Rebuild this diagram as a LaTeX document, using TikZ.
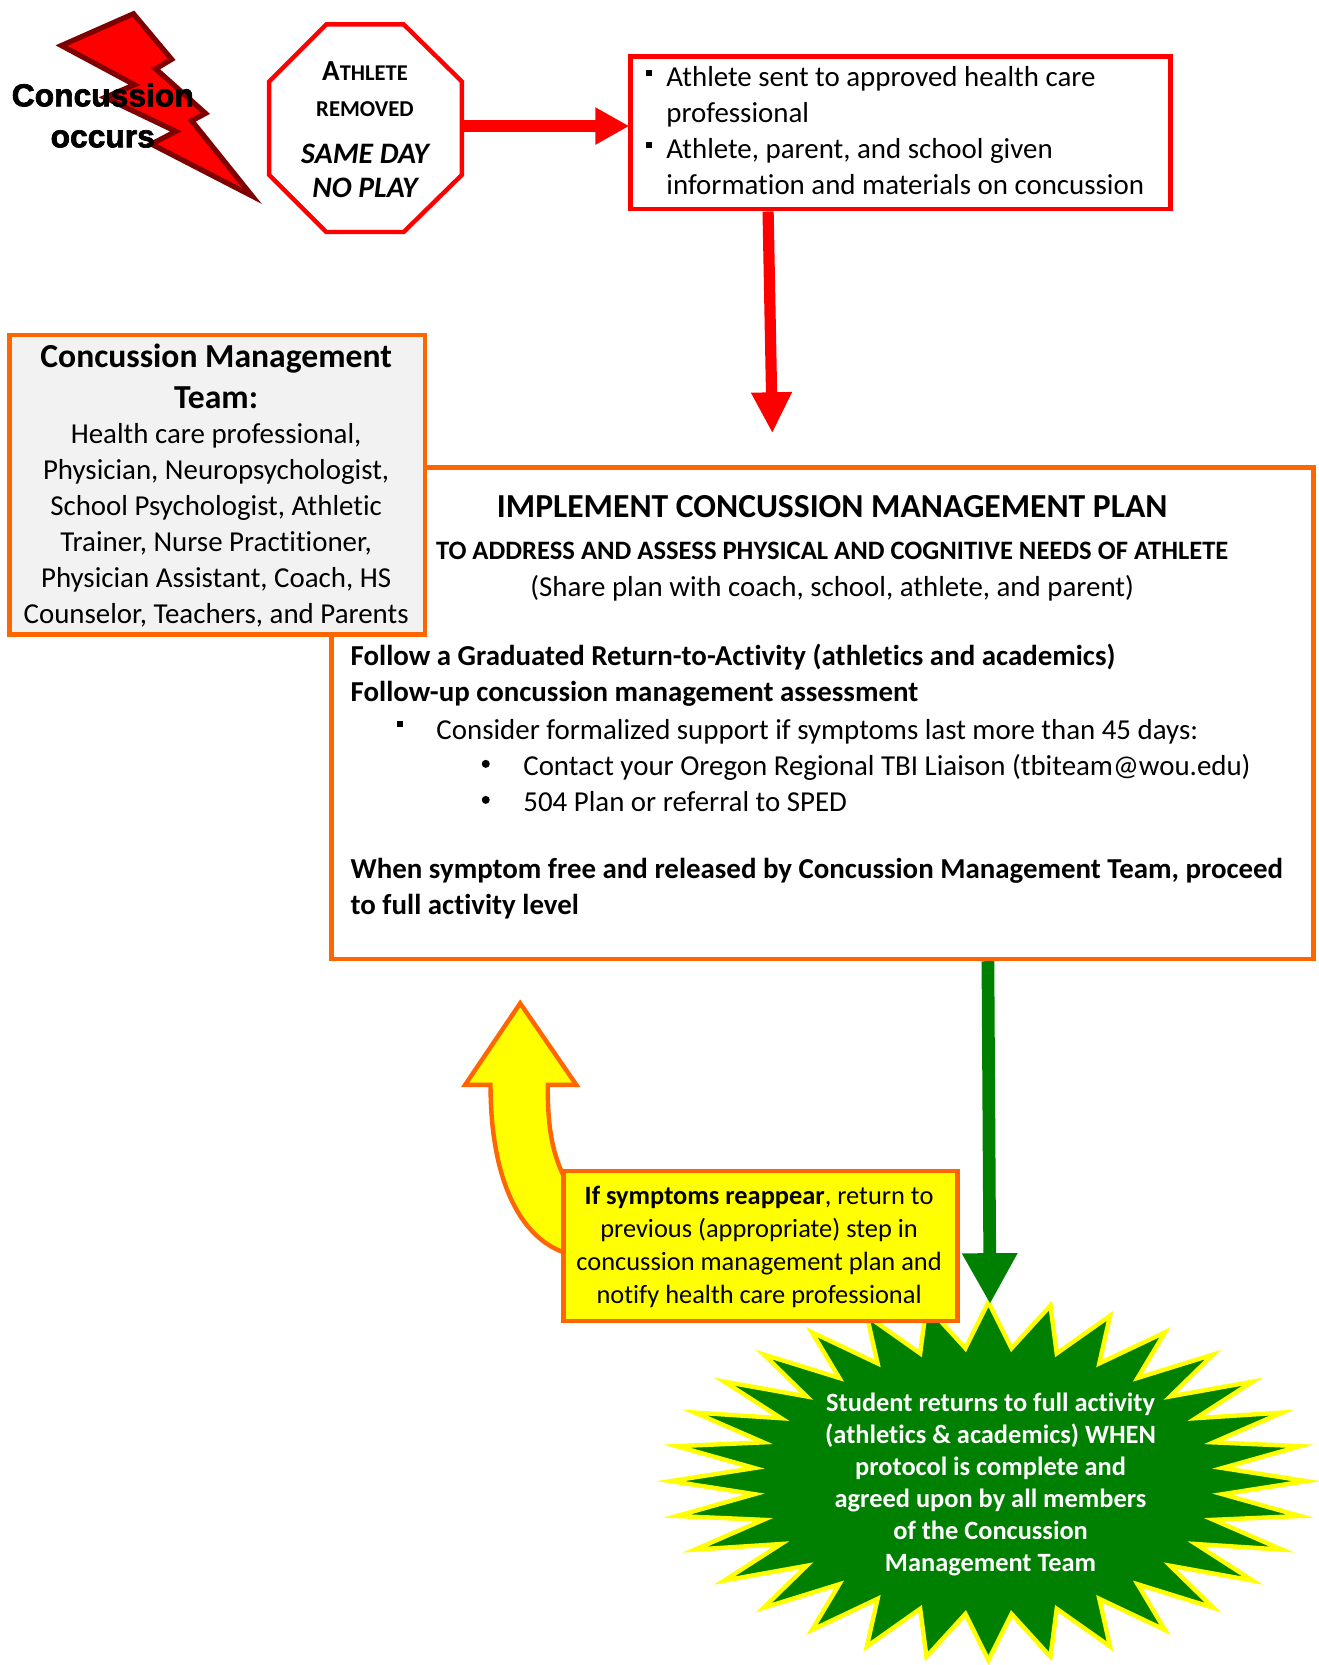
\documentclass[tikz,border=0pt]{standalone}
\usepackage{fontspec}
\setmainfont[Ligatures=NoCommon]{Carlito}
\newfontfamily\heavy[BoldFeatures={FakeBold=2.2}]{Liberation Sans}
\usetikzlibrary{arrows.meta,calc}
\definecolor{sigred}{HTML}{FF0000}
\definecolor{sigorange}{HTML}{FF6600}
\definecolor{siggreen}{HTML}{008000}
\definecolor{sigyellow}{HTML}{FFFF00}
\definecolor{boltdark}{HTML}{7F0000}
\definecolor{panelgrey}{HTML}{F2F2F2}
\newcommand{\bodysize}{\fontsize{28.9}{36}\selectfont}
\tikzset{
  frame/.style={draw,line width=4.4pt,rectangle,inner sep=0pt,miter limit=10},
  txt/.style={inner sep=0pt,outer sep=0pt,font=\bodysize},
  blockred/.style={draw=sigred,line width=11.2pt,-{Triangle[length=34pt,width=35pt,sep=0pt]},sigred},
  blockgreen/.style={draw=siggreen,line width=12.7pt,-{Triangle[length=51pt,width=52pt]},siggreen},
  sqbullet/.style={fill=black,inner sep=0pt,minimum size=6pt},
  rdbullet/.style={circle,fill=black,inner sep=0pt,minimum size=8pt},
}
\begin{document}
\begin{tikzpicture}[x=1.0594pt,y=-1.0594pt]
\useasboundingbox (0,0) rectangle (1245,1571.6);
% star
\draw[fill=siggreen,draw=sigyellow,line width=4.4pt,miter limit=12]
  plot[samples at={0,...,63}] ({933+(mod(\x,2)==0?300:222)*cos(\x*5.625)},{1398+(mod(\x,2)==0?169:126)*sin(\x*5.625)}) -- cycle;
\node[txt,align=center,text=white,font=\fontsize{26.4}{32.0}\selectfont\bfseries] (star) at (935,1401.5) {Student returns to full activity\\(athletics \& academics) WHEN\\protocol is complete and\\agreed upon by all members\\of the Concussion\\Management Team};
% bolt
\draw[fill=sigred,draw=boltdark,line width=5.2pt,miter limit=12] (126,13)--(58,43)--(127,80)--(99,92)--(166,124)--(143,136)--(238,185)--(181,114)--(194,107)--(147,65)--(162,56)--cycle;
\node[txt,align=center,font=\fontsize{31.8}{41}\selectfont\heavy\bfseries] (bolt) at (97,109) {Concussion\\occurs};
% stop sign
\draw[draw=sigred,line width=4.4pt,fill=white] (308,23)--(381,23)--(436,77)--(436,165)--(381,219)--(308,219)--(254,165)--(254,77)--cycle;
\node[inner sep=0pt,minimum width=192.8pt,minimum height=206.6pt] (oct) at (345,120.5) {};
\node[txt,align=center,font=\fontsize{25}{36}\selectfont\bfseries] (octa) at (344.5,84.5) {{\fontsize{29}{36}\selectfont A}{\fontsize{22.5}{36}\selectfont THLETE}\\{\fontsize{22.7}{36}\selectfont REMOVED}};
\node[txt,align=center,font=\fontsize{29.7}{33.5}\selectfont\bfseries\itshape] (octb) at (344.5,161.5) {SAME DAY\\NO PLAY};
% red box
\node[frame,draw=sigred,minimum width=540pt,minimum height=152.6pt] (redbox) at (850,125.5) {};
\node[txt,align=left,anchor=west] (redtxt) at (629,123) {Athlete sent to approved health care\\professional\\Athlete, parent, and school given\\information and materials on concussion};
\node[sqbullet] (rb1) at (613,69) {};
\node[sqbullet] (rb2) at (613,137) {};
% main box
\node[frame,draw=sigorange,fill=white,minimum width=982pt,minimum height=491.6pt] (main) at (776.5,673.2) {};
\node[txt,font=\fontsize{33.6}{38}\selectfont\bfseries] (mt) at (785.5,478) {IMPLEMENT CONCUSSION MANAGEMENT PLAN};
\node[txt,font=\fontsize{26.6}{36}\selectfont\bfseries] (ms) at (785.5,520) {TO ADDRESS AND ASSESS PHYSICAL AND COGNITIVE NEEDS OF ATHLETE};
\node[txt] (mp) at (785.5,555) {(Share plan with coach, school, athlete, and parent)};
\node[txt,font=\bodysize\bfseries,align=left,anchor=west] (mf) at (331,637) {Follow a Graduated Return-to-Activity (athletics and academics)\\Follow-up concussion management assessment};
\node[txt,anchor=west] (mc) at (412,691) {Consider formalized support if symptoms last more than 45 days:};
\node[sqbullet] (mb0) at (378,683) {};
\node[txt,anchor=west,align=left] (md) at (494,739) {Contact your Oregon Regional TBI Liaison (tbiteam@wou.edu)\\504 Plan or referral to SPED};
\node[rdbullet] (mb1) at (458.5,721) {};
\node[rdbullet] (mb2) at (458.5,755) {};
\node[txt,font=\bodysize\bfseries,align=left,anchor=west] (mw) at (331,839) {When symptom free and released by Concussion Management Team, proceed\\to full activity level};
% team box
\node[frame,draw=sigorange,fill=panelgrey,minimum width=415.3pt,minimum height=299.8pt,align=center] (team) at (205,457.5) {};
\node[txt,font=\fontsize{33.6}{40.6}\selectfont\bfseries,align=center] (teamh) at (204,355.5) {Concussion Management\\Team:};
\node[txt,align=center] (teamt) at (204,496) {Health care professional,\\Physician, Neuropsychologist,\\School Psychologist, Athletic\\Trainer, Nurse Practitioner,\\Physician Assistant, Coach, HS\\Counselor, Teachers, and Parents};
% connectors
\coordinate (redin) at (594,119);
\coordinate (a2s) at (725,197);
\coordinate (a2e) at (729,409);
\coordinate (gs) at (932.5,904);
\coordinate (gt) at (934.5,1231);
\draw[blockred] (oct.east |- redin) -- (redin);
\draw[blockred,-{Triangle[length=41pt,width=38pt]}] (a2s |- redbox.south) -- (a2e);
\draw[blockgreen] (gs |- main.south) -- (gt);
% return arrow
\draw[draw=sigorange,fill=sigyellow,line width=4.4pt,miter limit=10] (491,947)--(544,1024)--(517,1024).. controls (517,1060) and (520,1085) .. (532,1110)--(532,1182) .. controls (490,1167) and (463,1112) .. (463,1024)--(439,1024)--cycle;
% yellow box
\node[frame,draw=sigorange,fill=sigyellow,minimum width=394pt,minimum height=150.4pt] (ybox) at (718,1176) {};
\node[txt,align=center,font=\fontsize{26.4}{33}\selectfont] (ytxt) at (716.5,1177) {\textbf{If symptoms reappear}, return to\\previous (appropriate) step in\\concussion management plan and\\notify health care professional};
\end{tikzpicture}
\end{document}
